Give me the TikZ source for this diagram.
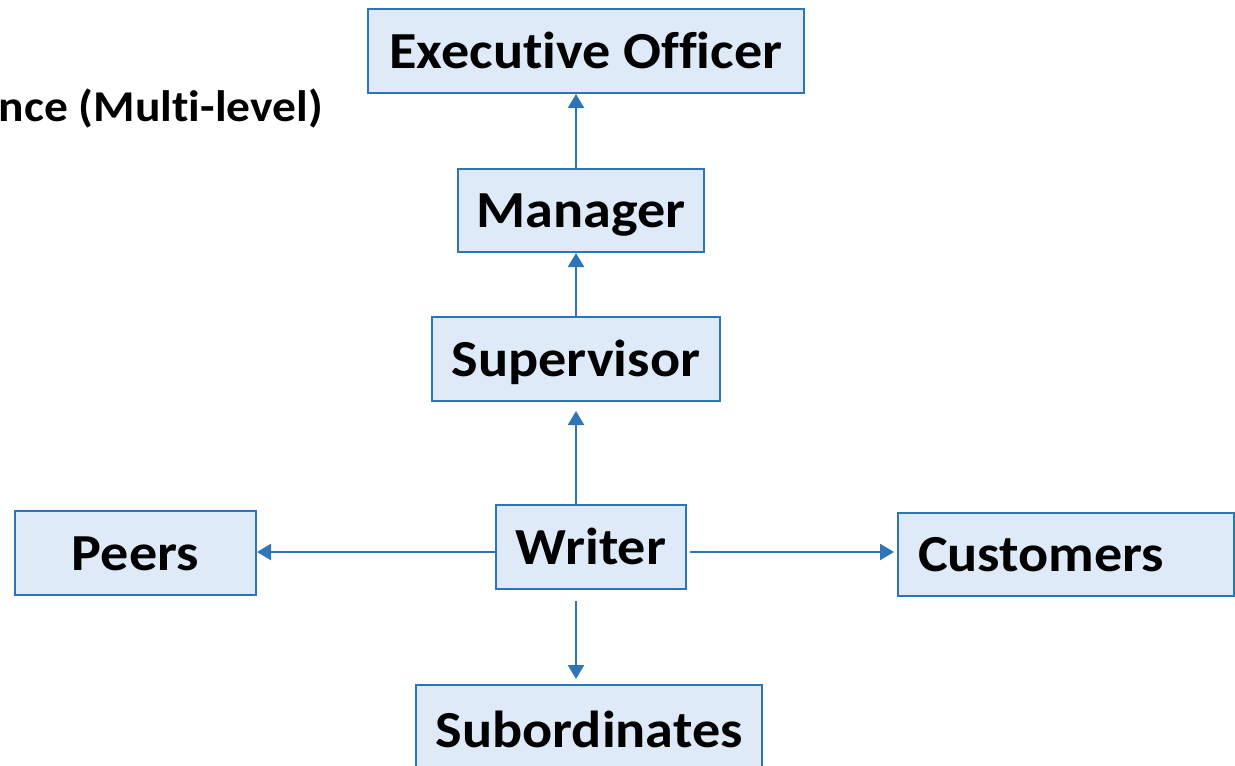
\documentclass[tikz,border=0pt]{standalone}
\usepackage{fontspec}
\setmainfont{Carlito}[FakeStretch=1.08, Ligatures=NoCommon]
\usetikzlibrary{arrows.meta}
\definecolor{boxline}{HTML}{2E75B6}
\definecolor{boxfill}{HTML}{DEEAF7}
\tikzset{
  rolebox/.style={draw=boxline, fill=boxfill, line width=2pt, font=\fontsize{52}{58}\selectfont\bfseries, inner sep=0pt, text height=34pt, text depth=0pt, anchor=center},
  conn/.style={draw=boxline, line width=2.2pt, -{Triangle[width=16pt,length=14pt]}},
}
\begin{document}
\begin{tikzpicture}[x=1pt,y=-1pt]
\useasboundingbox (0,0) rectangle (1235,766);
\node[font=\fontsize{44}{50}\selectfont\bfseries, anchor=east, inner sep=0pt] (ttl) at (323,108) {nce (Multi-level)};
\node[rolebox, minimum width=436pt, minimum height=84pt] (exe) at (586,51) {Executive Officer};
\node[rolebox, minimum width=246pt, minimum height=83pt] (mgr) at (581,210.5) {Manager};
\node[rolebox, minimum width=288pt, minimum height=84pt] (sup) at (576,359) {Supervisor};
\node[rolebox, minimum width=190pt, minimum height=84pt] (wri) at (591,547) {Writer};
\node[rolebox, minimum width=241pt, minimum height=84pt] (per) at (135.5,553) {Peers};
\node[rolebox, minimum height=83pt, inner xsep=20pt, text width=296pt, align=left] (cus) at (1066,554.5) {Customers};
\node[rolebox, minimum width=346pt, minimum height=90pt] (sub) at (589,730) {Subordinates};
\coordinate (wl) at (wri.west |- 0,552);
\coordinate (wr) at (wri.east |- 0,552);
\draw[conn] (mgr.north -| sup) -- (exe.south -| sup);
\draw[conn] (sup.north -| sup) -- (mgr.south -| sup);
\draw[conn, shorten >=9pt] (wri.north -| sup) -- (sup.south -| sup);
\draw[conn, shorten <=11pt, shorten >=5pt] (wri.south -| sup) -- (sub.north -| sup);
\draw[conn] (wl) -- (per.east |- wl);
\draw[conn, shorten <=3pt, shorten >=3pt] (wr) -- (cus.west |- wr);
\end{tikzpicture}
\end{document}
